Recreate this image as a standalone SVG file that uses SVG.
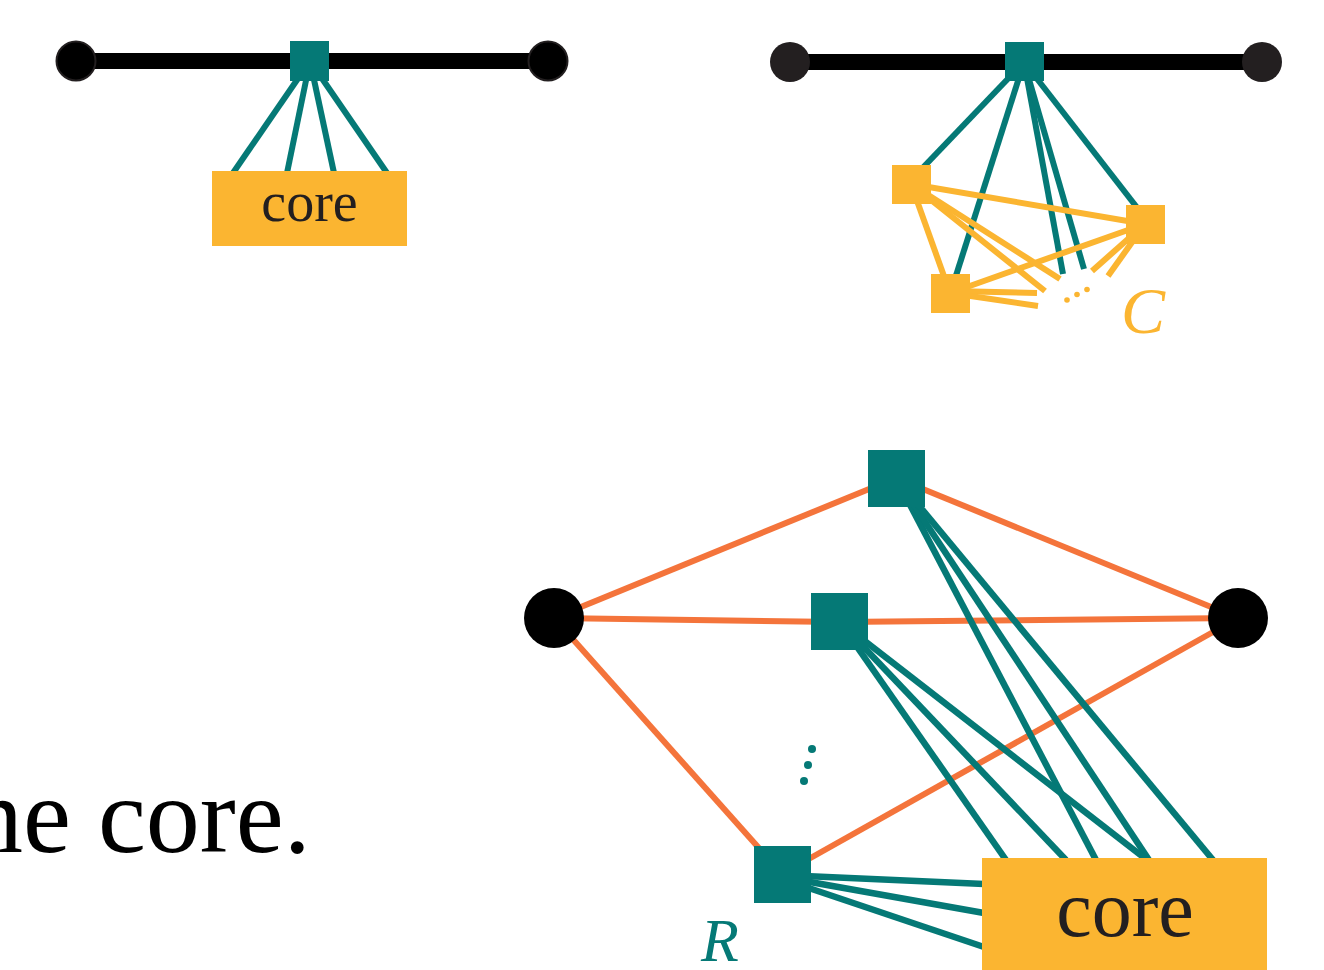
<svg xmlns="http://www.w3.org/2000/svg" width="1324" height="970" viewBox="0 0 1324 970">
<style>
.bar{stroke:#000;stroke-width:16;fill:none}
.teal{stroke:#057976;stroke-width:6;fill:none;stroke-linecap:butt}
.tealb{stroke:#057976;stroke-width:6.5;fill:none}
.yel{stroke:#fbb531;stroke-width:6;fill:none}
.org{stroke:#f4743b;stroke-width:6;fill:none}
.sq{fill:#057976}
.ysq{fill:#fbb531}
.blk{fill:#000}
.txt{font-family:"Liberation Serif","DejaVu Serif",serif;fill:#231f20}
</style>
<rect width="1324" height="970" fill="#fff"/>

<!-- top-left diagram -->
<g id="connectors-tl">
<line class="bar" x1="76" y1="61" x2="548" y2="61"/>
<line class="teal" x1="310" y1="61" x2="233" y2="173"/>
<line class="teal" x1="310" y1="61" x2="287" y2="173"/>
<line class="teal" x1="310" y1="61" x2="334" y2="173"/>
<line class="teal" x1="310" y1="61" x2="387" y2="173"/>
</g>
<g id="tl-left"><circle cx="76" cy="61" r="19.5" fill="#000" stroke="#231f20" stroke-width="2"/></g>
<g id="tl-right"><circle cx="548" cy="61" r="19.5" fill="#000" stroke="#231f20" stroke-width="2"/></g>
<g id="tl-hub"><rect class="sq" x="290" y="41" width="39" height="40"/></g>
<g id="tl-core"><rect class="ysq" x="212" y="171" width="195" height="75"/><text class="txt" x="309.5" y="221" font-size="56" text-anchor="middle">core</text></g>

<!-- top-right diagram -->
<g id="connectors-tr">
<line class="bar" x1="790" y1="62" x2="1262" y2="62"/>
<line class="teal" x1="1024" y1="62" x2="913" y2="178"/>
<line class="teal" x1="1024" y1="62" x2="953" y2="285"/>
<line class="teal" x1="1024" y1="62" x2="1063" y2="274"/>
<line class="teal" x1="1024" y1="62" x2="1084" y2="269"/>
<line class="teal" x1="1024" y1="62" x2="1142" y2="214"/>
<line class="yel" x1="911" y1="184" x2="1145" y2="224"/>
<line class="yel" x1="911" y1="184" x2="950" y2="293"/>
<line class="yel" x1="950" y1="293" x2="1145" y2="224"/>
<line class="yel" x1="911" y1="184" x2="1060" y2="279"/>
<line class="yel" x1="911" y1="184" x2="1045" y2="291"/>
<line class="yel" x1="950" y1="291" x2="1037" y2="293"/>
<line class="yel" x1="950" y1="293" x2="1038" y2="306"/>
<line class="yel" x1="1145" y1="224" x2="1092" y2="271"/>
<line class="yel" x1="1145" y1="224" x2="1108" y2="276"/>
</g>
<g id="tr-left"><circle cx="790" cy="62" r="20" fill="#231f20"/></g>
<g id="tr-right"><circle cx="1262" cy="62" r="20" fill="#231f20"/></g>
<g id="tr-hub"><rect class="sq" x="1005" y="42" width="39" height="39"/></g>
<g id="tr-a"><rect class="ysq" x="892" y="165" width="39" height="39"/></g>
<g id="tr-b"><rect class="ysq" x="1126" y="205" width="39" height="39"/></g>
<g id="tr-d"><rect class="ysq" x="931" y="274" width="39" height="39"/></g>
<g id="tr-c">
<circle cx="1067" cy="300" r="2.8" fill="#fbb531"/>
<circle cx="1077" cy="294.5" r="2.8" fill="#fbb531"/>
<circle cx="1087" cy="289.5" r="2.8" fill="#fbb531"/>
<text x="1121" y="333" font-size="66" font-style="italic" font-family="Liberation Serif, serif" fill="#fbb531">C</text>
</g>

<!-- bottom diagram -->
<g id="connectors-b">
<line class="org" x1="554" y1="618" x2="896" y2="478"/>
<line class="org" x1="896" y1="478" x2="1238" y2="618"/>
<line class="org" x1="554" y1="618" x2="839" y2="622"/>
<line class="org" x1="839" y1="622" x2="1238" y2="618"/>
<line class="org" x1="554" y1="618" x2="782" y2="874"/>
<line class="org" x1="782" y1="874" x2="1238" y2="618"/>
<line class="tealb" x1="896" y1="478" x2="1096" y2="860"/>
<line class="tealb" x1="896" y1="478" x2="1149" y2="860"/>
<line class="tealb" x1="896" y1="478" x2="1213" y2="860"/>
<line class="tealb" x1="839" y1="621" x2="1006" y2="860"/>
<line class="tealb" x1="839" y1="621" x2="1066" y2="860"/>
<line class="tealb" x1="839" y1="621" x2="1147" y2="860"/>
<line class="tealb" x1="782" y1="875" x2="984" y2="884"/>
<line class="tealb" x1="782" y1="877" x2="984" y2="913"/>
<line class="tealb" x1="782" y1="879" x2="984" y2="947"/>
</g>
<g id="b-left"><circle class="blk" cx="554" cy="618" r="30"/></g>
<g id="b-right"><circle class="blk" cx="1238" cy="618" r="30"/></g>
<g id="b-top"><rect class="sq" x="868" y="450" width="57" height="57"/></g>
<g id="b-mid"><rect class="sq" x="811" y="593" width="57" height="57"/></g>
<g id="b-dots">
<circle cx="812" cy="749" r="4" fill="#057976"/>
<circle cx="808" cy="765" r="4" fill="#057976"/>
<circle cx="804" cy="781" r="4" fill="#057976"/>
</g>
<g id="b-r"><rect class="sq" x="754" y="846" width="57" height="57"/>
<text x="701" y="961" font-size="62" font-style="italic" font-family="Liberation Serif, serif" fill="#057976">R</text></g>
<g id="b-core"><rect class="ysq" x="982" y="858" width="285" height="112"/><text class="txt" x="1125" y="936" font-size="80" text-anchor="middle">core</text></g>

<text x="-31" y="852" font-size="108" font-family="Liberation Serif, serif" fill="#000">ne core.</text>
</svg>
